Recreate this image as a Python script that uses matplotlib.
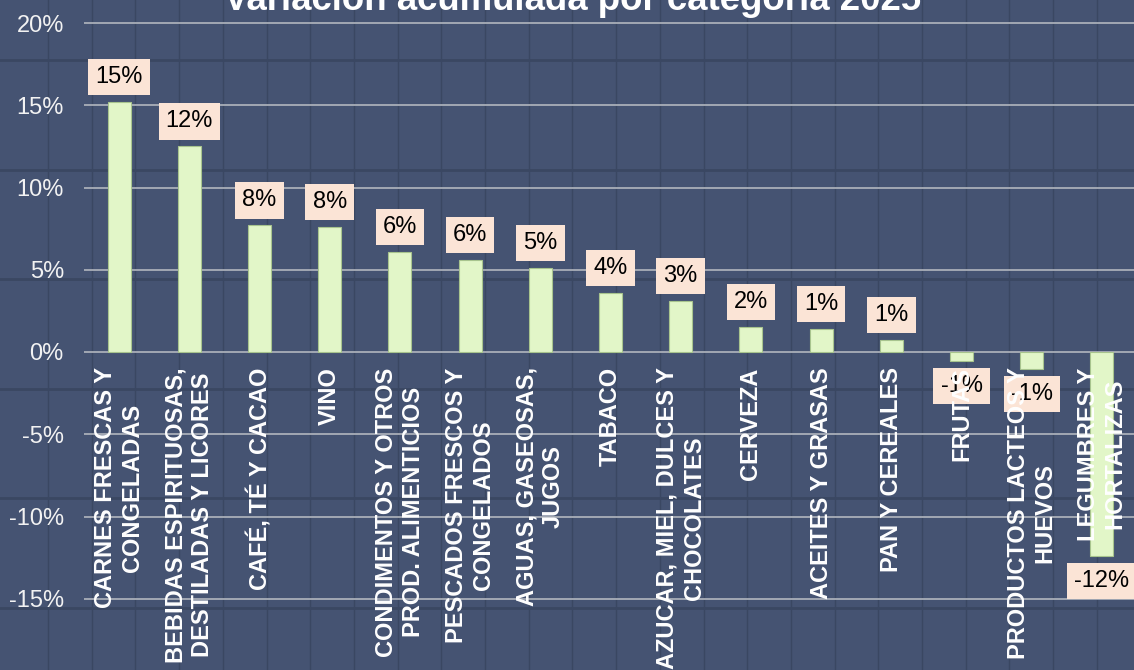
import matplotlib.pyplot as plt
import numpy as np

plt.rcParams['font.family'] = ['Liberation Sans', 'DejaVu Sans']

# Data (percent)
categorias = ["CARNES FRESCAS Y\nCONGELADAS",
              "BEBIDAS ESPIRITUOSAS,\nDESTILADAS Y LICORES",
              "CAFÉ, TÉ Y CACAO",
              "VINO",
              "CONDIMENTOS Y OTROS\nPROD. ALIMENTICIOS",
              "PESCADOS FRESCOS Y\nCONGELADOS",
              "AGUAS, GASEOSAS,\nJUGOS",
              "TABACO",
              "AZUCAR, MIEL, DULCES Y\nCHOCOLATES",
              "CERVEZA",
              "ACEITES Y GRASAS",
              "PAN Y CEREALES",
              "FRUTAS",
              "PRODUCTOS LACTEOS Y\nHUEVOS",
              "LEGUMBRES Y\nHORTALIZAS"]
variacion = [15.2, 12.5, 7.7, 7.6, 6.1, 5.6, 5.1, 3.6, 3.1, 1.55, 1.4, 0.73, -0.53, -1.03, -12.4]
yticks = [-15, -10, -5, 0, 5, 10, 15, 20]
titulo = "Variación acumulada por categoría 2025"

BG = '#455372'
BG_GRID = '#3A4762'
BAR = '#E2F6C8'
BOX = '#FBE4D6'
GRID = '#A9AEB8'

W, H = 1134, 670
fig = plt.figure(figsize=(W / 100, H / 100), dpi=100, facecolor=BG)

# background "graph paper" pattern
bg = fig.add_axes([0, 0, 1, 1], zorder=-1)
bg.set_xlim(0, W)
bg.set_ylim(H, 0)
bg.set_facecolor(BG)
for x in np.arange(48, W, 43.7):
    bg.axvline(x, color=BG_GRID, lw=1)
for y in np.arange(60, H, 109.5):
    bg.axhline(y, color=BG_GRID, lw=2)
bg.set_xticks([])
bg.set_yticks([])
for s in bg.spines.values():
    s.set_visible(False)

# main axes, slightly larger than the figure (chart is cropped)
left, right = 84, 1137
ax = fig.add_axes([left / W, 0, (right - left) / W, 1])
ax.set_facecolor('none')
# category labels hang from the 0% line
ax.spines['bottom'].set_position(('data', 0))
px_per_pct = 16.45
zero_y = 352
ax.set_ylim(-(H - zero_y) / px_per_pct, zero_y / px_per_pct)
ax.set_xlim(-0.5, len(categorias) - 0.5)

x = np.arange(len(categorias))
for t in yticks:
    ax.axhline(t, color=GRID, lw=1.3, zorder=0.5)
ax.bar(x, variacion, width=0.33, color=BAR, edgecolor='#A8C48E', linewidth=0.8, zorder=1)

for xi, v in zip(x, variacion):
    if v >= 0:
        off, va = 10, 'bottom'
    else:
        off, va = -10, 'top'
    ax.annotate(f"{v:.0f}%", (xi, v), xytext=(0, off), textcoords='offset points',
                ha='center', va=va, fontsize=17, color='black', zorder=1.2,
                bbox=dict(boxstyle='square,pad=0.3', fc=BOX, ec='none'))

ax.set_yticks(yticks)
ax.set_yticklabels([f"{t}%" for t in yticks], color='#F2F2F2', fontsize=17)
ax.set_xticks(x)
ax.set_xticklabels(categorias, rotation=90, ha='center', va='top', multialignment='center',
                   color='white', fontsize=17, fontweight='bold')
ax.tick_params(axis='y', length=0, pad=14.5)
ax.tick_params(axis='x', length=0, pad=11)
for s in ax.spines.values():
    s.set_visible(False)

fig.text(0.5045, 1 - 10 / H, titulo, ha='center', va='baseline', color='white',
         fontsize=26.4, fontweight='bold')

fig.savefig('out.png', dpi=100, facecolor=BG)
